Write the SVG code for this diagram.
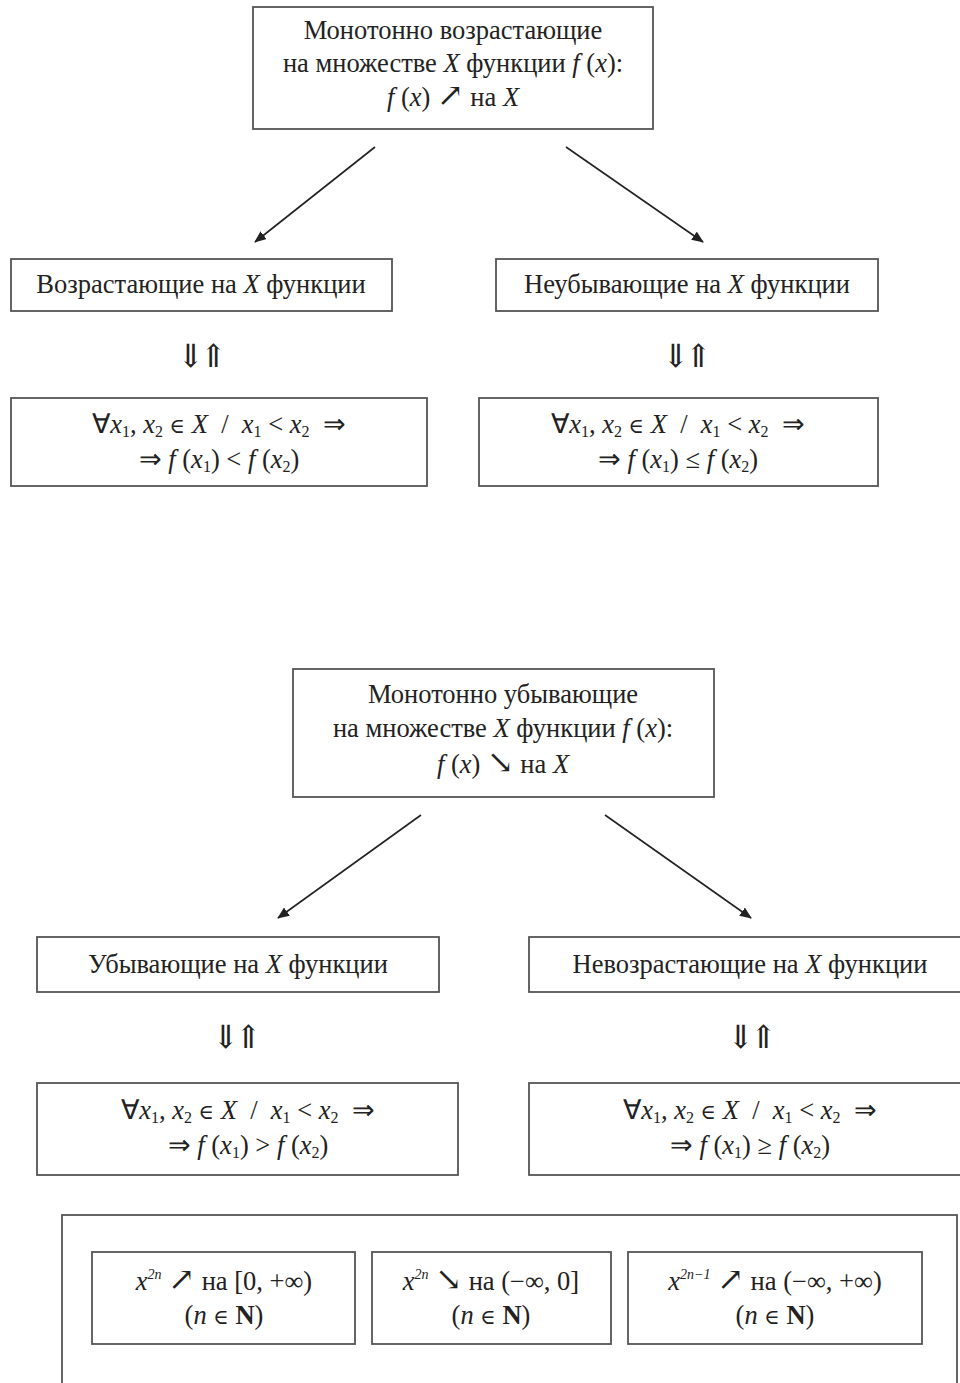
<svg xmlns="http://www.w3.org/2000/svg" width="960" height="1383" viewBox="0 0 960 1383">
  <defs>
    <style>
      .box { fill: #fff; stroke: #555; stroke-width: 1.8; }
      .t { font-family: "Liberation Serif", "Times New Roman", serif; font-size: 26.5px; fill: #222; text-anchor: middle; }
      .i { font-style: italic; }
      .sub { font-size: 16px; }
      .sup { font-size: 14px; font-style: italic; }
      .b { font-weight: bold; }
      .rel { font-family: "DejaVu Serif", serif; font-size: 21px; }
      .sym { font-family: "DejaVu Serif", serif; font-size: 32px; }
      .dbl { font-family: "DejaVu Serif", serif; font-size: 32px; letter-spacing: -4px; }
      .edge { stroke: #222; stroke-width: 1.6; fill: none; marker-end: url(#head); }
    </style>
    <marker id="head" viewBox="0 0 12 10" refX="11" refY="5" markerWidth="12" markerHeight="10" markerUnits="userSpaceOnUse" orient="auto">
      <path d="M0,0 L12,5 L0,10 Z" fill="#222"/>
    </marker>
  </defs>

  <!-- increasing functions -->
  <g id="inc-root">
    <rect class="box" x="253" y="7" width="400" height="122"/>
    <text class="t" x="453" y="39">Монотонно возрастающие</text>
    <text class="t" x="453" y="72">на множестве <tspan class="i">X</tspan> функции <tspan class="i">f</tspan> (<tspan class="i">x</tspan>):</text>
    <text class="t" x="453" y="106"><tspan class="i">f</tspan> (<tspan class="i">x</tspan>) <tspan class="sym">↗</tspan> на <tspan class="i">X</tspan></text>
  </g>
  <g id="inc-strict">
    <rect class="box" x="11" y="259" width="381" height="52"/>
    <text class="t" x="201" y="293">Возрастающие на <tspan class="i">X</tspan> функции</text>
  </g>
  <g id="inc-nonstrict">
    <rect class="box" x="496" y="259" width="382" height="52"/>
    <text class="t" x="687" y="293">Неубывающие на <tspan class="i">X</tspan> функции</text>
  </g>
  <g id="inc-strict-equiv">
    <text class="t dbl" x="200" y="367">⇓⇑</text>
  </g>
  <g id="inc-nonstrict-equiv">
    <text class="t dbl" x="685" y="367">⇓⇑</text>
  </g>
  <g id="inc-strict-def">
    <rect class="box" x="11" y="398" width="416" height="88"/>
    <text class="t" x="219" y="433">∀<tspan class="i">x</tspan><tspan class="sub" dy="4">1</tspan><tspan dy="-4">, </tspan><tspan class="i">x</tspan><tspan class="sub" dy="4">2</tspan><tspan dy="-4"> </tspan><tspan class="rel">∈</tspan> <tspan class="i">X</tspan>&#160; /&#160; <tspan class="i">x</tspan><tspan class="sub" dy="4">1</tspan><tspan dy="-4"> &lt; </tspan><tspan class="i">x</tspan><tspan class="sub" dy="4">2</tspan><tspan dy="-4">&#160; ⇒</tspan></text>
    <text class="t" x="219" y="468">⇒ <tspan class="i">f</tspan> (<tspan class="i">x</tspan><tspan class="sub" dy="4">1</tspan><tspan dy="-4">) &lt; </tspan><tspan class="i">f</tspan> (<tspan class="i">x</tspan><tspan class="sub" dy="4">2</tspan><tspan dy="-4">)</tspan></text>
  </g>
  <g id="inc-nonstrict-def">
    <rect class="box" x="479" y="398" width="399" height="88"/>
    <text class="t" x="678" y="433">∀<tspan class="i">x</tspan><tspan class="sub" dy="4">1</tspan><tspan dy="-4">, </tspan><tspan class="i">x</tspan><tspan class="sub" dy="4">2</tspan><tspan dy="-4"> </tspan><tspan class="rel">∈</tspan> <tspan class="i">X</tspan>&#160; /&#160; <tspan class="i">x</tspan><tspan class="sub" dy="4">1</tspan><tspan dy="-4"> &lt; </tspan><tspan class="i">x</tspan><tspan class="sub" dy="4">2</tspan><tspan dy="-4">&#160; ⇒</tspan></text>
    <text class="t" x="678" y="468">⇒ <tspan class="i">f</tspan> (<tspan class="i">x</tspan><tspan class="sub" dy="4">1</tspan><tspan dy="-4">) ≤ </tspan><tspan class="i">f</tspan> (<tspan class="i">x</tspan><tspan class="sub" dy="4">2</tspan><tspan dy="-4">)</tspan></text>
  </g>

  <!-- decreasing functions -->
  <g id="dec-root">
    <rect class="box" x="293" y="669" width="421" height="128"/>
    <text class="t" x="503" y="703">Монотонно убывающие</text>
    <text class="t" x="503" y="737">на множестве <tspan class="i">X</tspan> функции <tspan class="i">f</tspan> (<tspan class="i">x</tspan>):</text>
    <text class="t" x="503" y="773"><tspan class="i">f</tspan> (<tspan class="i">x</tspan>) <tspan class="sym">↘</tspan> на <tspan class="i">X</tspan></text>
  </g>
  <g id="dec-strict">
    <rect class="box" x="37" y="937" width="402" height="55"/>
    <text class="t" x="238" y="973">Убывающие на <tspan class="i">X</tspan> функции</text>
  </g>
  <g id="dec-nonstrict">
    <rect class="box" x="529" y="937" width="440" height="55"/>
    <text class="t" x="750" y="973">Невозрастающие на <tspan class="i">X</tspan> функции</text>
  </g>
  <g id="dec-strict-equiv">
    <text class="t dbl" x="235" y="1048">⇓⇑</text>
  </g>
  <g id="dec-nonstrict-equiv">
    <text class="t dbl" x="750" y="1048">⇓⇑</text>
  </g>
  <g id="dec-strict-def">
    <rect class="box" x="37" y="1083" width="421" height="92"/>
    <text class="t" x="248" y="1119">∀<tspan class="i">x</tspan><tspan class="sub" dy="4">1</tspan><tspan dy="-4">, </tspan><tspan class="i">x</tspan><tspan class="sub" dy="4">2</tspan><tspan dy="-4"> </tspan><tspan class="rel">∈</tspan> <tspan class="i">X</tspan>&#160; /&#160; <tspan class="i">x</tspan><tspan class="sub" dy="4">1</tspan><tspan dy="-4"> &lt; </tspan><tspan class="i">x</tspan><tspan class="sub" dy="4">2</tspan><tspan dy="-4">&#160; ⇒</tspan></text>
    <text class="t" x="248" y="1154">⇒ <tspan class="i">f</tspan> (<tspan class="i">x</tspan><tspan class="sub" dy="4">1</tspan><tspan dy="-4">) &gt; </tspan><tspan class="i">f</tspan> (<tspan class="i">x</tspan><tspan class="sub" dy="4">2</tspan><tspan dy="-4">)</tspan></text>
  </g>
  <g id="dec-nonstrict-def">
    <rect class="box" x="529" y="1083" width="440" height="92"/>
    <text class="t" x="750" y="1119">∀<tspan class="i">x</tspan><tspan class="sub" dy="4">1</tspan><tspan dy="-4">, </tspan><tspan class="i">x</tspan><tspan class="sub" dy="4">2</tspan><tspan dy="-4"> </tspan><tspan class="rel">∈</tspan> <tspan class="i">X</tspan>&#160; /&#160; <tspan class="i">x</tspan><tspan class="sub" dy="4">1</tspan><tspan dy="-4"> &lt; </tspan><tspan class="i">x</tspan><tspan class="sub" dy="4">2</tspan><tspan dy="-4">&#160; ⇒</tspan></text>
    <text class="t" x="750" y="1154">⇒ <tspan class="i">f</tspan> (<tspan class="i">x</tspan><tspan class="sub" dy="4">1</tspan><tspan dy="-4">) ≥ </tspan><tspan class="i">f</tspan> (<tspan class="i">x</tspan><tspan class="sub" dy="4">2</tspan><tspan dy="-4">)</tspan></text>
  </g>

  <!-- examples of power functions -->
  <g id="examples">
    <rect class="box" x="62" y="1215" width="895" height="180"/>
  </g>
  <g id="ex-even-inc">
    <rect class="box" x="92" y="1252" width="263" height="92"/>
    <text class="t" x="224" y="1290"><tspan class="i">x</tspan><tspan class="sup" dy="-11">2n</tspan><tspan dy="11"> </tspan><tspan class="sym">↗</tspan> на [0, +∞)</text>
    <text class="t" x="224" y="1324">(<tspan class="i">n</tspan> <tspan class="rel">∈</tspan> <tspan class="b">N</tspan>)</text>
  </g>
  <g id="ex-even-dec">
    <rect class="box" x="372" y="1252" width="239" height="92"/>
    <text class="t" x="491" y="1290"><tspan class="i">x</tspan><tspan class="sup" dy="-11">2n</tspan><tspan dy="11"> </tspan><tspan class="sym">↘</tspan> на (−∞, 0]</text>
    <text class="t" x="491" y="1324">(<tspan class="i">n</tspan> <tspan class="rel">∈</tspan> <tspan class="b">N</tspan>)</text>
  </g>
  <g id="ex-odd-inc">
    <rect class="box" x="628" y="1252" width="294" height="92"/>
    <text class="t" x="775" y="1290"><tspan class="i">x</tspan><tspan class="sup" dy="-11">2n−1</tspan><tspan dy="11"> </tspan><tspan class="sym">↗</tspan> на (−∞, +∞)</text>
    <text class="t" x="775" y="1324">(<tspan class="i">n</tspan> <tspan class="rel">∈</tspan> <tspan class="b">N</tspan>)</text>
  </g>

  <g id="connectors">
    <line class="edge" x1="375" y1="147" x2="255" y2="242"/>
    <line class="edge" x1="566" y1="147" x2="703" y2="242"/>
    <line class="edge" x1="421" y1="815" x2="278" y2="918"/>
    <line class="edge" x1="605" y1="815" x2="751" y2="918"/>
  </g>
</svg>
